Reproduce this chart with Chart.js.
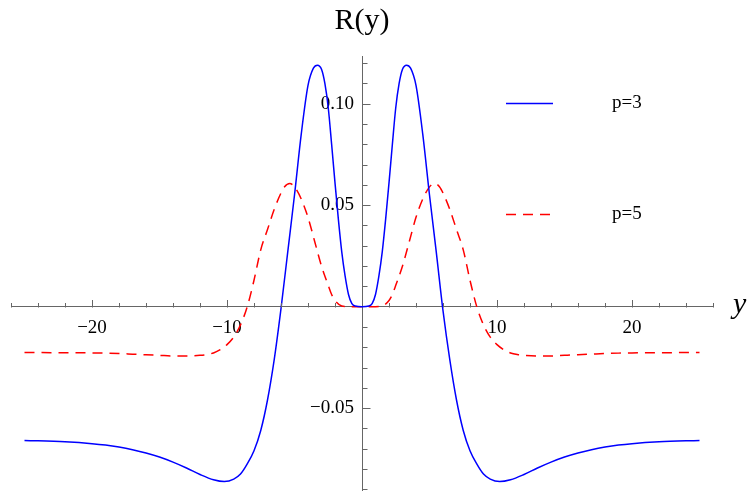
<!DOCTYPE html>
<html>
<head>
<meta charset="utf-8">
<script src="https://cdn.jsdelivr.net/npm/chart.js@4/dist/chart.umd.min.js"></script>
<style>
  html, body { margin: 0; padding: 0; background: #fff; }
  canvas { display: block; }
</style>
</head>
<body>
<canvas id="c" width="748" height="491"></canvas>
<script>
// R(y) for p = 3: sample positions and values
const p3Y = [-25, -22, -20, -19, -18, -17, -16, -15, -14, -13, -12, -11, -10.2, -9.5, -9, -8.5, -8, -7.5, -7, -6.5,
             -6, -5.5, -5, -4.5, -4, -3.6, -3.3, -3, -2.75, -2.5, -2.25, -2, -1.75, -1.5, -1.25, -1, -0.75, -0.5,
             0,
             0.5, 0.75, 1, 1.25, 1.5, 1.75, 2, 2.25, 2.5, 2.75, 3, 3.3, 3.6, 4, 4.5, 5, 5.5, 6,
             6.5, 7, 7.5, 8, 8.5, 9, 9.5, 10.2, 11, 12, 13, 14, 15, 16, 17, 18, 19, 20, 22, 25];
const p3R = [-0.0659, -0.0666, -0.0675, -0.0682, -0.0692, -0.0705, -0.0721, -0.0741, -0.0766, -0.0795, -0.0827, -0.0853,
             -0.0862, -0.0850, -0.0825, -0.0775, -0.071, -0.061, -0.046, -0.026,
             -0.001, 0.027, 0.055, 0.085, 0.109, 0.1175, 0.119, 0.117, 0.110, 0.098, 0.080, 0.061, 0.043, 0.027, 0.015, 0.006, 0.0015, 0.0003,
             0,
             0.0003, 0.0015, 0.006, 0.015, 0.027, 0.043, 0.061, 0.080, 0.098, 0.110, 0.117, 0.119, 0.1175, 0.109, 0.085, 0.055, 0.027, -0.002,
             -0.026, -0.046, -0.061, -0.071, -0.0775, -0.0825, -0.0850, -0.0862, -0.0853, -0.0827, -0.0795, -0.0766, -0.0741,
             -0.0721, -0.0705, -0.0692, -0.0682, -0.0675, -0.0666, -0.0659];

// R(y) for p = 5: sample positions and values
const p5Y = [-25, -22, -20, -19, -18, -17, -16, -15, -14, -13, -12, -11.5, -11, -10.5, -10, -9.5, -9, -8.5, -8, -7.5,
             -7, -6.5, -6, -5.75, -5.35, -5, -4.5, -4, -3.5, -3, -2.5, -2.25, -2, -1.5, -1,
             0,
             1, 1.5, 2, 2.25, 2.5, 3, 3.5, 4, 4.5, 5, 5.35, 5.75, 6, 6.5, 7, 7.5, 8, 8.5,
             9, 9.5, 10, 10.5, 11, 11.5, 12, 13, 14, 15, 16, 17, 18, 19, 20, 22, 25];
const p5R = [-0.0226, -0.0227, -0.0228, -0.0229, -0.0231, -0.0234, -0.0237, -0.0240, -0.0243, -0.0243, -0.0240, -0.0236,
             -0.0228, -0.0212, -0.0187, -0.015, -0.009, 0.000, 0.013, 0.028,
             0.038, 0.048, 0.056, 0.059, 0.0607, 0.059, 0.053, 0.044, 0.032, 0.020, 0.0105, 0.006, 0.003, 0.0003, 0,
             0,
             0, 0.0003, 0.003, 0.006, 0.0105, 0.020, 0.032, 0.044, 0.053, 0.059, 0.0607, 0.059, 0.056, 0.048, 0.038, 0.028, 0.013, 0.000,
             -0.009, -0.015, -0.0187, -0.0212, -0.0228, -0.0236, -0.0240, -0.0243, -0.0243, -0.0240, -0.0237, -0.0234,
             -0.0231, -0.0229, -0.0228, -0.0227, -0.0226];

// Series names
const seriesNames = ['p=3', 'p=5'];

// Axis ticks (every tick gets a mark; only some carry a label)
const xTicks = [-26, -24, -22, -20, -18, -16, -14, -12, -10, -8, -6, -4, -2, 0, 2, 4, 6, 8, 10, 12, 14, 16, 18, 20, 22, 24, 26];
const xTickLabels = { '-20': '\u221220', '-10': '\u221210', '10': '10', '20': '20' };
const yTicks = [-0.09, -0.08, -0.07, -0.06, -0.05, -0.04, -0.03, -0.02, -0.01, 0, 0.01, 0.02, 0.03, 0.04, 0.05, 0.06, 0.07, 0.08, 0.09, 0.10, 0.11, 0.12];
const yTickLabels = { '-0.05': '\u22120.05', '0.05': '0.05', '0.1': '0.10' };

const AXIS_COLOR = '#666666';
const SERIF = '"Liberation Serif", "Times New Roman", serif';
// small gap kept between the vertical axis and its labels
const Y_LABEL_GAP = '\u2005\u2006';

const toPoints = (xs, ys) => xs.map((v, i) => ({ x: v, y: ys[i] }));
const labelFor = (map, v) => {
  const key = String(Math.round(v * 1000) / 1000);
  return map[key] !== undefined ? map[key] : null;
};

// Inward tick marks on both axes
function drawAxisTicks(chart) {
  const ctx = chart.ctx;
  const x = chart.scales.x;
  const y = chart.scales.y;
  const x0 = Math.round(x.getPixelForValue(0)) + 0.5;
  const y0 = Math.round(y.getPixelForValue(0)) + 0.5;
  ctx.save();
  ctx.strokeStyle = AXIS_COLOR;
  ctx.lineWidth = 1;
  ctx.setLineDash([]);
  ctx.beginPath();
  xTicks.forEach(v => {
    if (v === 0) return;
    const px = Math.round(x.getPixelForValue(v)) + 0.5;
    const len = labelFor(xTickLabels, v) ? 7.5 : 4.5;
    ctx.moveTo(px, y0);
    ctx.lineTo(px, y0 - len);
  });
  yTicks.forEach(v => {
    if (Math.abs(v) < 1e-9) return;
    const py = Math.round(y.getPixelForValue(v)) + 0.5;
    const len = labelFor(yTickLabels, v) ? 8 : 5;
    ctx.moveTo(x0, py);
    ctx.lineTo(x0 + len, py);
  });
  ctx.stroke();
  ctx.restore();
}

// Axis variable name and the legend
const axisDecor = {
  id: 'axisDecor',
  afterDraw(chart) {
    drawAxisTicks(chart);
    const ctx = chart.ctx;
    const x = chart.scales.x;
    const y = chart.scales.y;
    ctx.save();
    ctx.fillStyle = '#000';
    ctx.font = 'italic 30px ' + SERIF;
    ctx.textAlign = 'left';
    ctx.textBaseline = 'alphabetic';
    ctx.fillText('y', x.right + 20, y.getPixelForValue(0) + 6);

    const rows = [103.5, 214.5];
    chart.data.datasets.forEach((ds, i) => {
      const ly = rows[i];
      ctx.strokeStyle = ds.borderColor;
      ctx.lineWidth = ds.borderWidth;
      ctx.setLineDash(ds.borderDash || []);
      ctx.beginPath();
      ctx.moveTo(506, ly);
      ctx.lineTo(553, ly);
      ctx.stroke();
      ctx.setLineDash([]);
      ctx.fillStyle = '#000';
      ctx.font = '19px ' + SERIF;
      ctx.textBaseline = 'middle';
      ctx.fillText(ds.label, 612, ly);
    });
    ctx.restore();
  }
};

new Chart(document.getElementById('c'), {
  type: 'line',
  data: {
    datasets: [
      {
        label: seriesNames[0],
        data: toPoints(p3Y, p3R),
        borderColor: '#0000ff',
        borderWidth: 1.5,
        pointRadius: 0,
        fill: false,
        cubicInterpolationMode: 'monotone'
      },
      {
        label: seriesNames[1],
        data: toPoints(p5Y, p5R),
        borderColor: '#ff0000',
        borderWidth: 1.5,
        borderDash: [10, 7],
        pointRadius: 0,
        fill: false,
        cubicInterpolationMode: 'monotone'
      }
    ]
  },
  options: {
    responsive: false,
    animation: false,
    events: [],
    layout: { padding: { left: 11, right: 35, top: 0, bottom: 0 } },
    plugins: {
      legend: { display: false },
      tooltip: { enabled: false },
      title: {
        display: true,
        text: 'R(y)',
        fullSize: false,
        color: '#000',
        font: { family: SERIF, size: 30, weight: 'normal', lineHeight: 1.2 },
        padding: { top: 3, bottom: 17 }
      }
    },
    scales: {
      x: {
        type: 'linear',
        min: -26,
        max: 26,
        position: { y: 0 },
        grid: { display: false, drawTicks: false },
        border: { display: true, color: AXIS_COLOR, width: 1 },
        afterBuildTicks: s => { s.ticks = xTicks.map(v => ({ value: v })); },
        ticks: {
          autoSkip: false,
          maxRotation: 0,
          padding: 10,
          color: '#000',
          font: { family: SERIF, size: 19, lineHeight: 1.2 },
          callback: v => labelFor(xTickLabels, v)
        }
      },
      y: {
        type: 'linear',
        min: -0.0906,
        max: 0.1235,
        position: { x: 0 },
        grid: { display: false, drawTicks: false },
        border: { display: true, color: AXIS_COLOR, width: 1 },
        afterBuildTicks: s => { s.ticks = yTicks.map(v => ({ value: v })); },
        ticks: {
          autoSkip: false,
          padding: 0,
          color: '#000',
          font: { family: SERIF, size: 19, lineHeight: 0.05 },
          callback: v => {
            const t = labelFor(yTickLabels, v);
            return t === null ? null : t + Y_LABEL_GAP;
          }
        }
      }
    }
  },
  plugins: [axisDecor]
});
</script>
</body>
</html>
